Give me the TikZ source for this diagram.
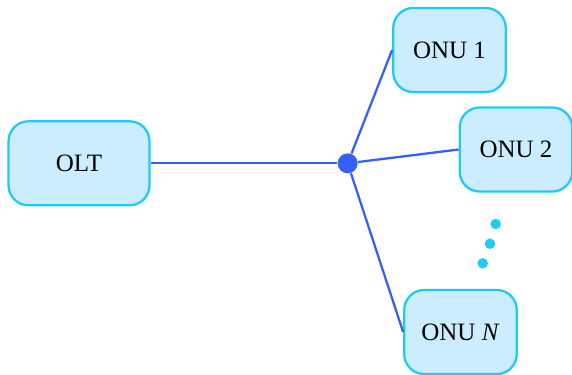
\documentclass[tikz,border=0pt]{standalone}
\usepackage{fontspec}
\setmainfont{Liberation Serif}
\definecolor{boxline}{HTML}{1ECBF5}
\definecolor{boxfill}{HTML}{CCEDFF}
\definecolor{linkblue}{HTML}{3461F5}
\begin{document}
\begin{tikzpicture}[x=0.44pt,y=-0.44pt,
	box/.style={draw=boxline, fill=boxfill, line width=1pt, rounded corners=8.8pt,
		minimum height=37pt, inner sep=2pt, font=\fontsize{11}{13}\selectfont},
	link/.style={draw=linkblue, line width=1pt}]
		\useasboundingbox (0,0) rectangle (572,374);
		\node[box, minimum width=62pt] (olt) at (79,163.3) {OLT};
		\node[box, minimum width=49.5pt] (onu1) at (449.5,50) {ONU 1};
		\node[box, minimum width=49.5pt] (onu2) at (516,149.5) {ONU 2};
		\node[box, minimum width=49.5pt] (onuN) at (460.5,332) {ONU \textit{N}};
		\node[circle, fill=linkblue, inner sep=0pt, minimum size=8.8pt] (split) at (347.7,163.3) {};
		\draw[link] (olt.east) -- (split);
		\draw[link] (split) -- (onu1.west);
		\draw[link] (split) -- (onu2.west);
		\draw[link] (split) -- (onuN.west);
		% dots between ONU 2 and ONU N
		\foreach \p in {(495.7,224),(490,243.7),(482.7,263.3)}
			\fill[boxline] \p circle (2.3pt);
\end{tikzpicture}
\end{document}
